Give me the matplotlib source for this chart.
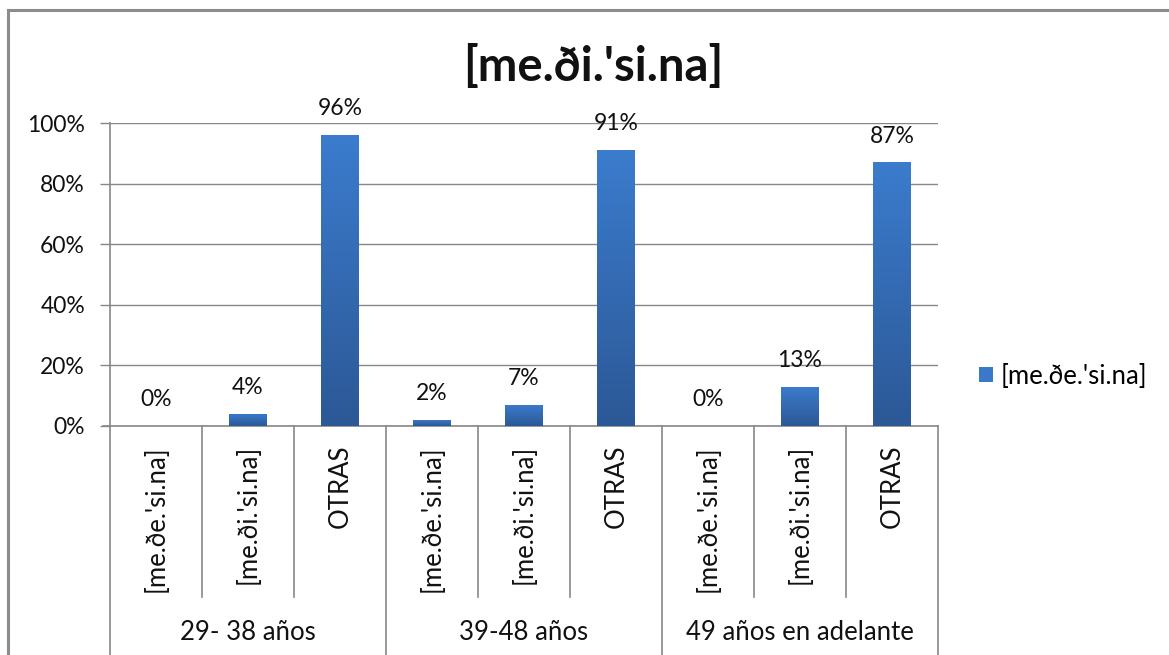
import matplotlib
matplotlib.use("Agg")
import matplotlib.pyplot as plt
import numpy as np
from matplotlib.patches import Patch
from matplotlib.colors import LinearSegmentedColormap

title = "[me.ði.'si.na]"
groups = ["29- 38 años", "39-48 años", "49 años en adelante"]
subcats = ["[me.ðe.'si.na]", "[me.ði.'si.na]", "OTRAS"]
values = [0.00, 0.04, 0.96, 0.02, 0.07, 0.91, 0.00, 0.13, 0.87]
labels = ["0%", "4%", "96%", "2%", "7%", "91%", "0%", "13%", "87%"]
legend_label = "[me.ðe.'si.na]"
yticks = [0, 0.2, 0.4, 0.6, 0.8, 1.0]
yticklabels = ["0%", "20%", "40%", "60%", "80%", "100%"]

plt.rcParams['font.family'] = ['Lato', 'DejaVu Sans']

W, H = 1169, 655
fig = plt.figure(figsize=(W / 100, H / 100), dpi=100)
fig.patch.set_facecolor("white")

NUM = 16.5
TXT = 18.5

# outer frame (top and left visible)
fig.add_artist(plt.Line2D([8 / W, 8 / W], [0, 1 - 10 / H], color="#8c8c8c", lw=2.2,
                          transform=fig.transFigure))
fig.add_artist(plt.Line2D([8 / W, 1], [1 - 10 / H, 1 - 10 / H], color="#8c8c8c", lw=2.2,
                          transform=fig.transFigure))

left, right, top, bottom = 110, 938, 123, 426
ax = fig.add_axes([left / W, 1 - bottom / H, (right - left) / W, (bottom - top) / H])

n = len(values)
x = np.arange(n)

gridc = "#878787"
ax.set_yticks(yticks)
ax.set_yticklabels(yticklabels, fontsize=NUM, color="#111111")
ax.yaxis.grid(True, color=gridc, lw=1)
ax.set_axisbelow(True)
ax.tick_params(axis="y", length=7, color=gridc, width=1, pad=11)
ax.set_xticks([])
for s in ["top", "right"]:
    ax.spines[s].set_visible(False)
for s in ["left", "bottom"]:
    ax.spines[s].set_color(gridc)
    ax.spines[s].set_linewidth(1.2)

bars = ax.bar(x, values, width=0.41, color="#3a78c9", zorder=2)

cmap = LinearSegmentedColormap.from_list("g", ["#2c5896", "#3b7ccd"])
grad = np.linspace(0, 1, 256).reshape(-1, 1)
for b in bars:
    bx, by = b.get_x(), b.get_y()
    bw, bh = b.get_width(), b.get_height()
    if bh <= 0:
        continue
    im = ax.imshow(grad, extent=[bx, bx + bw, by, by + bh], origin="lower", cmap=cmap,
                   aspect="auto", zorder=3)
    im.set_clip_path(b)
ax.set_xlim(-0.5, n - 0.5)
ax.set_ylim(0, 1)

for xi, v, lab in zip(x, values, labels):
    ax.annotate(lab, (xi, v), xytext=(0, 19), textcoords="offset points",
                ha="center", va="center", fontsize=NUM, color="#111111",
                annotation_clip=False, zorder=5)

# category axis
tr = ax.get_xaxis_transform()
ax.plot([-0.5 - 0.08, -0.5], [0, 0], color=gridc, lw=1.2, transform=tr, clip_on=False)
span = bottom - top
sub_bottom = -(597 - bottom) / span
grp_bottom = -(H - bottom) / span
for i in range(n + 1):
    xb = i - 0.5
    yb = grp_bottom if i % 3 == 0 else sub_bottom
    ax.plot([xb, xb], [0, yb], color=gridc, lw=1.2, transform=tr, clip_on=False)

for i in range(n):
    ax.text(i, -(445 - bottom) / span, subcats[i % 3], rotation=90,
            ha="center", va="top", fontsize=TXT, color="#111111", transform=tr)

for g, name in enumerate(groups):
    ax.text(g * 3 + 1, -(633 - bottom) / span, name, ha="center", va="center",
            fontsize=TXT, color="#111111", transform=tr)

fig.text(593 / W, 1 - 66 / H, title, ha="center", va="center", fontsize=34,
         fontweight="bold", color="#111111")

ax.legend(handles=[Patch(facecolor="#3a78c9", edgecolor="none")], labels=[legend_label],
          loc="center left", bbox_to_anchor=(979 / W, 1 - 376 / H),
          bbox_transform=fig.transFigure, frameon=False, fontsize=TXT,
          handlelength=0.55, handleheight=0.55, handletextpad=0.3, borderaxespad=0,
          borderpad=0)

fig.savefig("out.png", dpi=100)
